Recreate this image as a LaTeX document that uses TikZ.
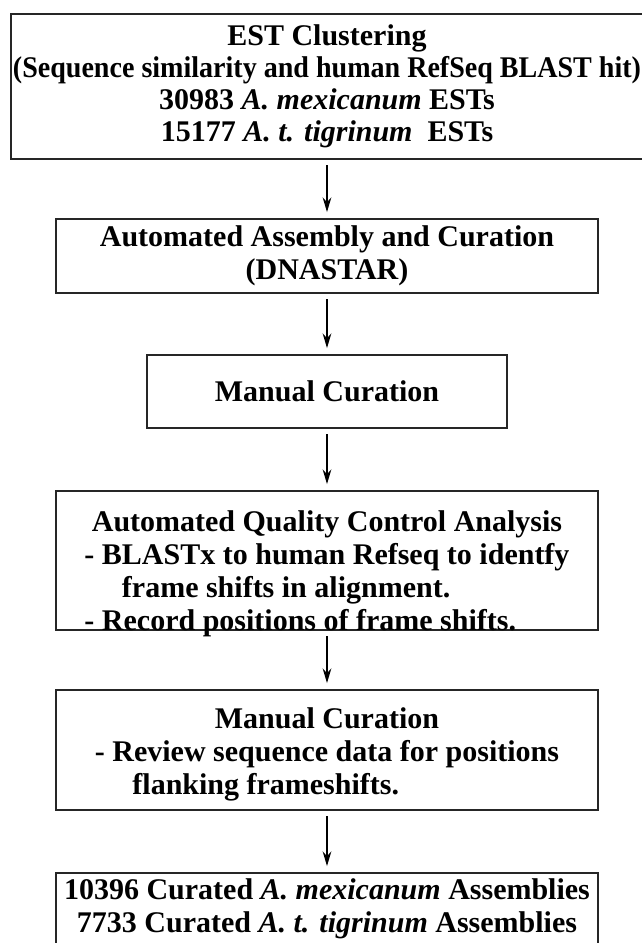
\documentclass[tikz,border=0pt]{standalone}
\usepackage{fontspec}
\usepackage{graphicx}
\setmainfont{Liberation Serif}
\usetikzlibrary{arrows.meta}
\tikzset{
    stepbox/.style={rectangle, draw=black!85, line width=1.4pt, inner sep=0pt,
                    minimum width=406.5pt, align=center,
                    font=\fontsize{22.5}{24.75}\selectfont\bfseries},
    arrow/.style={-{Stealth[length=11pt, width=6.5pt]}, line width=1pt, black,
                  shorten <=4pt, shorten >=4.5pt},
}
\begin{document}
\begin{tikzpicture}[x=0.75pt, y=-0.75pt]
    \useasboundingbox (0,0) rectangle (642,943);

    % Clustering
    \node[stepbox, minimum width=474pt, minimum height=108.75pt,
          font=\fontsize{22.5}{24}\selectfont\bfseries] (cluster) at (327,86.5)
        {EST Clustering\\
         \scalebox{0.935}[1]{(Sequence similarity and human RefSeq BLAST hit)}\\
         30983 \textit{A. mexicanum} ESTs\\15177 \textit{A. t. tigrinum}\ \ ESTs};

    % Assembly
    \node[stepbox, minimum height=55.5pt] (assembly) at (327,256)
        {Automated Assembly and Curation\\(DNASTAR)};

    % First manual pass
    \node[stepbox, minimum width=270pt, minimum height=54.75pt] (manual) at (327,391.5)
        {Manual Curation};

    % Quality control
    \node[stepbox, minimum height=104.25pt] (quality) at (327,560.5)
        {\raisebox{-10.5pt}[\height][\depth]{\begin{tabular}{@{}l@{}}
         \multicolumn{1}{@{}c@{}}{Automated Quality Control Analysis}\\
         - BLASTx to human Refseq to identfy\\
         \hspace*{1.25em}frame shifts in alignment.\\
         - Record positions of frame shifts.
         \end{tabular}}};

    % Second manual pass
    \node[stepbox, minimum height=90pt] (review) at (327,750)
        {\raisebox{-3.5pt}[\height][\depth]{\begin{tabular}{@{}l@{}}
         \multicolumn{1}{@{}c@{}}{Manual Curation}\\
         - Review sequence data for positions\\
         \hspace*{1.25em}flanking frameshifts.
         \end{tabular}}};

    % Result
    \node[stepbox, minimum height=54pt] (result) at (327,909)
        {10396 Curated \textit{A. mexicanum} Assemblies\\
         7733 Curated \textit{A. t. tigrinum} Assemblies};

    % Arrows
    \draw[arrow] (cluster.south) -- (assembly.north);
    \draw[arrow] (assembly.south) -- (manual.north);
    \draw[arrow] (manual.south) -- (quality.north);
    \draw[arrow] (quality.south) -- (review.north);
    \draw[arrow] (review.south) -- (result.north);
\end{tikzpicture}
\end{document}
